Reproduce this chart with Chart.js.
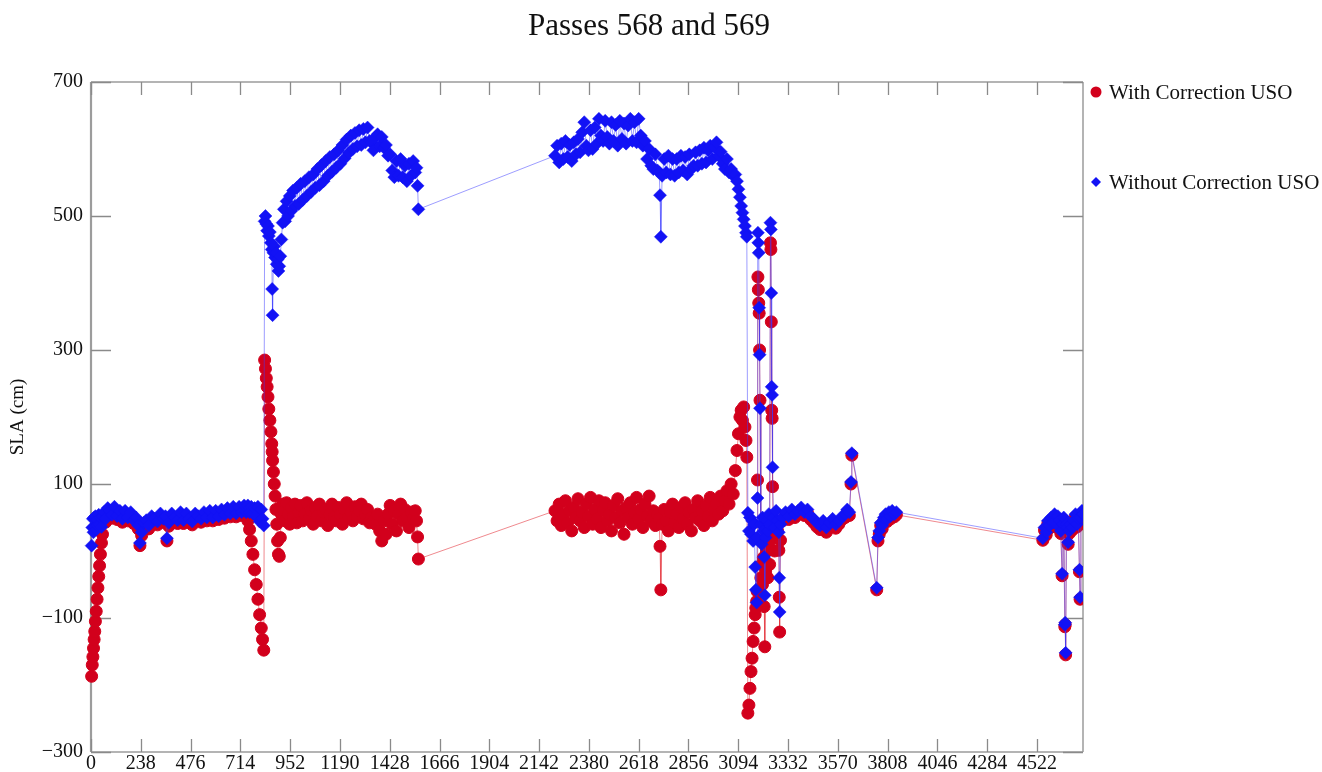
<!DOCTYPE html>
<html>
<head>
<meta charset="utf-8">
<script src="https://cdn.jsdelivr.net/npm/chart.js@4/dist/chart.umd.min.js"></script>
<style>
  html, body { margin: 0; padding: 0; background: #ffffff; }
  canvas { display: block; }
</style>
</head>
<body>
<canvas id="chart" width="1322" height="772"></canvas>
<script>
// ---------------- data ----------------
const chartTitle = 'Passes 568 and 569';
const yAxisTitle = 'SLA (cm)';
const seriesNames = ['With Correction USO', 'Without Correction USO'];

const xTickValues = [0, 238, 476, 714, 952, 1190, 1428, 1666, 1904, 2142, 2380, 2618, 2856, 3094, 3332, 3570, 3808, 4046, 4284, 4522];
const yTickValues = [-300, -100, 100, 300, 500, 700];

const alongTrack = [
  // pass 568, first part
  3,6,9,12,15,18,21,25,29,33, 37,41,45,50,55,62,70,80,90,100,
  112,125,138,150,163,176,190,204,216,226, 234,242,252,264,276,290,304,318,332,346,
  356,363,372,386,400,414,428,442,456,470, 484,498,512,526,540,554,568,582,596,610,
  624,638,652,666,680,694,708,720,732,742, 750,758,766,774,782,790,798,806,814,820,
  826,
  // high segment
  830,834,838,842,846,850,855,860,864,866, 868,872,876,880,884,888,892,896,900,905,
  910,916,922,928,935,942,950,958,966,975, 984,993,1002,1012,1022,1032,1042,1052,1062,1072,
  1082,1092,1102,1112,1122,1132,1142,1152,1162,1172, 1182,1192,1202,1212,1222,1232,1242,1252,1262,1272,
  1282,1292,1302,1312,1322,1332,1342,1350,1360,1370, 1380,1390,1400,1410,1420,1430,1440,1450,1460,1470,
  1480,1490,1500,1510,1520,1530,1540,1550,1556,1561, 1565,
  // pass 569
  2218,2228,2238,2248,2258,2268,2278,2288,2298,2308, 2318,2328,2338,2348,2358,2368,2378,2388,2398,2408,
  2418,2428,2438,2448,2458,2468,2478,2488,2498,2508, 2518,2528,2538,2548,2558,2568,2578,2588,2598,2608,
  2618,2628,2638,2648,2658,2668,2678,2688,2698,2708, 2716,2720,2724,2730,2740,2750,2760,2770,2780,2790,
  2800,2810,2820,2830,2840,2850,2860,2870,2880,2890, 2900,2910,2920,2930,2940,2950,2960,2970,2980,2990,
  3000,3010,3020,3030,3040,3050,3060,3070,3080,3088, 3095,3102,3108,3114,3120,3126,3131,3135,
  3140,3145,3150,3155,3160,3165,3170,3175,3178,3182, 3184,3186,3188,3190,3192,3194,3196,3198,3202,3206,
  3210,3214,3218,3221,3225,3230,3235,3240,3244,3248, 3250,3252,3254,3256,3258,3262,3268,3275,3282,3288,
  3290,3292,3296,
  3305,3320,3335,3350,3365,3380,3395,3410,3425,3440, 3455,3470,3485,3500,3515,3530,3545,3560,3575,3590,
  3605,3615,3625,3633,3637,
  3756,3762,3768,3775,3782,3790,3798,3806,3814,3822, 3830,3840,3850,
  4550,4558,4566,4574,4582,4590,4598,4606,4614,4622, 4630,4636,4642,4646,4650,4655,4657,4659,4663,4667,
  4671,4676,4682,4690,4698,4706,4714,4720,4725,4728, 4732,4737,4742
];

const slaWithUSO = [
  -187,-170,-158,-145,-132,-120,-105,-90,-72,-55, -38,-22,-5,12,25,50,43,58,55,49,
  61,47,55,43,55,45,53,41,45,33, 8,23,37,41,33,47,43,39,51,43,
  47,15,37,51,45,41,53,41,51,43, 39,51,47,43,53,45,55,45,55,47,
  57,49,59,51,61,51,61,53,60,54, 45,32,15,-5,-28,-50,-72,-95,-115,-132,
  -148,
  285,272,258,245,230,212,195,178,160,148, 135,118,100,82,62,40,15,-5,-8,20,
  55,70,60,45,72,55,40,65,50,70, 42,58,68,45,55,72,48,60,40,65,
  52,70,45,58,62,38,55,70,50,45, 65,55,40,62,72,50,58,45,66,52,
  60,70,48,55,62,42,50,45,40,55, 30,15,45,25,55,68,40,60,30,55,
  70,45,62,50,35,58,48,60,45,21, -12,
  60,45,70,38,55,75,42,60,30,65, 50,78,45,58,35,70,52,80,40,62,
  48,75,35,60,72,45,55,30,68,50, 78,42,60,25,65,50,72,40,58,80,
  48,62,35,70,52,82,45,60,38,55, 48,7,-58,40,62,45,30,58,70,42,
  55,35,65,48,72,40,58,30,62,50, 75,45,60,38,68,52,80,45,62,70,
  55,82,60,75,90,70,100,85,120,150, 175,200,210,195,215,185,165,140,
  -242,-230,-205,-180,-160,-135,-115,-95,-85,-75, -60,106,409,390,370,355,300,225,-40,-20,
  -50,-10,-83,-143,-30,0,-40,10,-20,460, 450,342,210,198,96,27,0,20,30,1,
  -69,-121,16,
  45,52,47,57,50,55,60,53,57,47, 42,36,32,40,28,36,42,34,40,47,
  50,57,53,100,143,
  -58,15,25,38,33,45,50,44,54,48, 56,51,54,
  16,31,24,41,34,46,38,51,36,48, 41,26,-37,36,46,-113,-110,-155,36,31,
  10,26,36,31,41,51,36,44,-31,-72, 46,56,51
];

const slaWithoutUSO = [
  8,35,48,28,50,36,52,32,46,38, 54,40,50,36,52,58,48,64,60,54,
  66,52,60,48,60,50,58,46,50,38, 12,28,42,46,38,52,48,44,56,48,
  52,19,42,56,50,46,58,46,56,48, 44,56,52,48,58,50,60,50,60,52,
  62,54,64,56,66,56,66,58,68,58, 68,58,66,56,64,52,66,44,62,48,
  38,
  492,500,488,478,485,470,476,460,450,391, 352,445,455,438,445,428,435,418,425,440,
  465,490,510,492,522,500,530,508,538,515, 542,518,548,524,552,530,558,536,562,542,
  570,546,576,552,582,560,588,566,592,572, 598,578,606,586,614,594,620,600,624,604,
  628,606,630,610,632,612,610,598,618,622, 604,618,602,606,590,592,568,558,582,560,
  585,558,575,552,578,560,582,565,572,545, 510,
  590,605,580,608,585,612,588,606,582,610, 592,615,595,625,640,605,598,628,600,632,
  608,645,620,612,642,618,608,640,612,636, 605,642,615,638,608,635,645,612,640,610,
  645,620,605,612,585,600,575,570,592,568, 565,531,469,560,585,565,590,562,585,560,
  585,565,590,568,588,562,592,570,575,595, 575,598,578,602,580,598,605,585,603,610,
  590,596,578,570,585,565,570,560,562,552, 540,528,515,505,495,485,475,469,
  57,30,50,25,45,15,40,-24,-58,-77, 20,79,475,460,445,363,293,213,40,10,
  50,30,-9,-66,20,45,30,55,40,490, 480,385,245,233,125,50,35,60,45,28,
  -40,-91,40,
  50,58,52,62,55,60,65,58,62,52, 48,42,38,45,35,42,48,40,45,52,
  55,62,58,103,146,
  -55,20,30,42,38,50,55,48,58,52, 60,55,58,
  19,35,28,45,38,50,42,55,40,52, 45,30,-34,40,50,-110,-107,-152,40,35,
  13,30,40,35,45,55,40,48,-28,-69, 50,60,55
];

// ---------------- styling ----------------
const SERIF = '"Liberation Serif", "Times New Roman", "DejaVu Serif", serif';
const RED = 'rgb(210, 0, 28)';
const BLUE = 'rgb(18, 18, 245)';

Chart.defaults.font.family = SERIF;
Chart.defaults.color = '#111';

function toPoints(values) {
  const n = Math.min(alongTrack.length, values.length);
  const out = [];
  for (let i = 0; i < n; i++) out.push({ x: alongTrack[i], y: values[i] });
  return out;
}

const framePlugin = {
  id: 'frameAndTicks',
  beforeDatasetsDraw(chart) {
    const { ctx, chartArea: a, scales: { x, y } } = chart;
    ctx.save();
    ctx.strokeStyle = '#9c9c9c';
    ctx.lineWidth = 1.5;
    ctx.beginPath();
    ctx.moveTo(a.left, a.top); ctx.lineTo(a.right, a.top);
    ctx.moveTo(a.right, a.top); ctx.lineTo(a.right, a.bottom);
    ctx.moveTo(a.left, a.bottom); ctx.lineTo(a.right, a.bottom);
    ctx.stroke();
    ctx.lineWidth = 2.2;
    ctx.beginPath();
    ctx.moveTo(a.left, a.top); ctx.lineTo(a.left, a.bottom);
    ctx.stroke();
    ctx.strokeStyle = '#8a8a8a';
    ctx.lineWidth = 1.3;
    ctx.beginPath();
    x.ticks.forEach(t => {
      const px = Math.round(x.getPixelForValue(t.value)) + 0.5;
      ctx.moveTo(px, a.bottom); ctx.lineTo(px, a.bottom - 13);
      ctx.moveTo(px, a.top); ctx.lineTo(px, a.top + 13);
    });
    y.ticks.forEach(t => {
      const py = Math.round(y.getPixelForValue(t.value)) + 0.5;
      ctx.moveTo(a.left, py); ctx.lineTo(a.left + 20, py);
      ctx.moveTo(a.right, py); ctx.lineTo(a.right - 20, py);
    });
    ctx.stroke();
    ctx.restore();
  }
};

const titleLegendPlugin = {
  id: 'titleLegend',
  afterDraw(chart) {
    const ctx = chart.ctx;
    ctx.save();
    ctx.fillStyle = '#111';
    ctx.textBaseline = 'middle';
    ctx.textAlign = 'center';
    ctx.font = '31px ' + SERIF;
    ctx.fillText(chartTitle, 649, 27);

    ctx.textAlign = 'left';
    ctx.font = '21px ' + SERIF;
    const rows = [92, 182];
    chart.data.datasets.forEach((ds, i) => {
      const cy = rows[i];
      const cx = 1096;
      ctx.fillStyle = ds.pointBackgroundColor;
      ctx.beginPath();
      if (ds.pointStyle === 'rectRot') {
        const r = 5;
        ctx.moveTo(cx, cy - r); ctx.lineTo(cx + r, cy); ctx.lineTo(cx, cy + r); ctx.lineTo(cx - r, cy);
        ctx.closePath();
      } else {
        ctx.arc(cx, cy, 5.5, 0, Math.PI * 2);
      }
      ctx.fill();
      ctx.fillStyle = '#111';
      ctx.fillText(ds.label, 1109, cy + 1);
    });
    ctx.restore();
  }
};

new Chart(document.getElementById('chart'), {
  type: 'line',
  data: {
    datasets: [
      {
        label: seriesNames[0],
        data: toPoints(slaWithUSO),
        order: 1,
        borderColor: 'rgba(225, 40, 50, 0.55)',
        borderWidth: 1,
        pointStyle: 'circle',
        pointRadius: 6,
        pointBorderWidth: 1,
        pointBackgroundColor: RED,
        pointBorderColor: RED,
        tension: 0,
        clip: { left: 8, right: 0, top: 8, bottom: 8 }
      },
      {
        label: seriesNames[1],
        data: toPoints(slaWithoutUSO),
        order: 0,
        borderColor: 'rgba(60, 60, 255, 0.5)',
        borderWidth: 1,
        pointStyle: 'rectRot',
        pointRadius: 6.5,
        pointBorderWidth: 0.5,
        pointBackgroundColor: BLUE,
        pointBorderColor: BLUE,
        tension: 0,
        clip: { left: 8, right: 0, top: 8, bottom: 8 }
      }
    ]
  },
  options: {
    responsive: false,
    animation: false,
    devicePixelRatio: 1,
    layout: { padding: { top: 82, right: 239, bottom: 0, left: 0 } },
    plugins: {
      legend: { display: false },
      title: { display: false },
      tooltip: { enabled: false }
    },
    elements: { line: { fill: false } },
    scales: {
      x: {
        type: 'linear',
        min: 0,
        max: 4742,
        grid: { display: false, drawTicks: false },
        border: { display: false },
        ticks: {
          autoSkip: false,
          maxRotation: 0,
          padding: 0,
          color: '#111',
          font: { size: 20, family: SERIF },
          callback: v => String(v)
        },
        afterBuildTicks(scale) { scale.ticks = xTickValues.map(v => ({ value: v })); },
        afterFit(scale) {
          scale.height = 20;
          scale.paddingLeft = 0; scale.paddingRight = 0;
        }
      },
      y: {
        type: 'linear',
        min: -300,
        max: 700,
        grid: { display: false, drawTicks: false },
        border: { display: false },
        title: {
          display: true,
          text: yAxisTitle,
          color: '#111',
          font: { size: 19, family: SERIF },
          padding: { top: 7, bottom: 0 }
        },
        ticks: {
          padding: 8,
          color: '#111',
          font: { size: 20, family: SERIF },
          callback: v => (v < 0 ? '\u2212' + Math.abs(v) : String(v))
        },
        afterBuildTicks(scale) { scale.ticks = yTickValues.map(v => ({ value: v })); },
        afterFit(scale) {
          scale.width = 91;
          scale.paddingTop = 0; scale.paddingBottom = 0;
        }
      }
    }
  },
  plugins: [framePlugin, titleLegendPlugin]
});
</script>
</body>
</html>
